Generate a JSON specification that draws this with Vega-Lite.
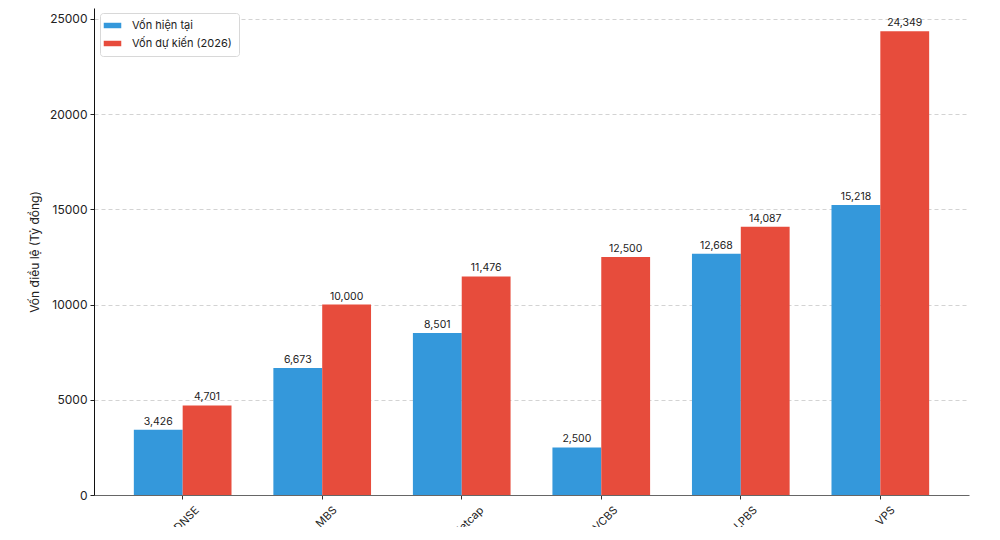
{
  "$schema": "https://vega.github.io/schema/vega-lite/v6.json",
  "width": 875,
  "height": 487,
  "autosize": {"type": "none"},
  "padding": {"left": 94, "top": 8, "right": 30, "bottom": 32},
  "config": {
    "font": "Inter",
    "view": {"stroke": null},
    "axis": {"labelFont": "Inter", "titleFont": "Inter", "labelColor": "#222", "titleColor": "#222"}
  },
  "data": {
    "values": [
      {"company": "DNSE", "series": "Vốn hiện tại", "value": 3426},
      {"company": "DNSE", "series": "Vốn dự kiến (2026)", "value": 4701},
      {"company": "MBS", "series": "Vốn hiện tại", "value": 6673},
      {"company": "MBS", "series": "Vốn dự kiến (2026)", "value": 10000},
      {"company": "Vietcap", "series": "Vốn hiện tại", "value": 8501},
      {"company": "Vietcap", "series": "Vốn dự kiến (2026)", "value": 11476},
      {"company": "VCBS", "series": "Vốn hiện tại", "value": 2500},
      {"company": "VCBS", "series": "Vốn dự kiến (2026)", "value": 12500},
      {"company": "LPBS", "series": "Vốn hiện tại", "value": 12668},
      {"company": "LPBS", "series": "Vốn dự kiến (2026)", "value": 14087},
      {"company": "VPS", "series": "Vốn hiện tại", "value": 15218},
      {"company": "VPS", "series": "Vốn dự kiến (2026)", "value": 24349}
    ]
  },
  "encoding": {
    "x": {
      "field": "company",
      "type": "nominal",
      "sort": null,
      "scale": {"paddingInner": 0.3, "paddingOuter": 0.2855},
      "axis": {
        "title": null,
        "labelAngle": -45,
        "labelAlign": "right",
        "labelBaseline": "top",
        "labelFontSize": 11,
        "labelPadding": 5,
        "labelOffset": {"expr": "3.5 + 1.8 * length(datum.label)"},
        "tickColor": "#333",
        "tickSize": 4,
        "domainColor": "#666",
        "grid": false
      }
    },
    "xOffset": {"field": "series", "type": "nominal", "sort": ["Vốn hiện tại", "Vốn dự kiến (2026)"], "scale": {"paddingInner": 0, "paddingOuter": 0}},
    "y": {
      "field": "value",
      "type": "quantitative",
      "scale": {"domain": [0, 25566], "nice": false, "zero": true},
      "axis": {
        "title": "Vốn điều lệ (Tỷ đồng)",
        "titleFontSize": 12,
        "titleFontWeight": "normal",
        "titlePadding": 8,
        "values": [0, 5000, 10000, 15000, 20000, 25000],
        "format": "d",
        "labelFontSize": 12,
        "labelPadding": 3,
        "tickSize": 4,
        "tickColor": "#222",
        "domainColor": "#111",
        "grid": true,
        "gridColor": "#c8c8c8",
        "gridDash": [4, 3],
        "gridWidth": 0.8
      }
    }
  },
  "layer": [
    {
      "mark": {"type": "bar"},
      "encoding": {
        "color": {
          "field": "series",
          "type": "nominal",
          "sort": ["Vốn hiện tại", "Vốn dự kiến (2026)"],
          "scale": {"domain": ["Vốn hiện tại", "Vốn dự kiến (2026)"], "range": ["#3498db", "#e74c3c"]},
          "legend": {
            "title": null,
            "orient": "none",
            "legendX": 6,
            "legendY": 5,
            "strokeColor": "#d8d8d8",
            "fillColor": "white",
            "cornerRadius": 3,
            "padding": 7,
            "labelFontSize": 11,
            "labelColor": "#222",
            "symbolType": "M-1.6,-0.5H1.6V0.5H-1.6Z",
            "symbolSize": 120,
            "symbolStrokeWidth": 0,
            "rowPadding": 6,
            "labelOffset": 14
          }
        }
      }
    },
    {
      "mark": {"type": "text", "baseline": "bottom", "dy": -3, "fontSize": 10.5, "color": "#222"},
      "encoding": {
        "text": {"field": "value", "type": "quantitative", "format": ","}
      }
    }
  ]
}
